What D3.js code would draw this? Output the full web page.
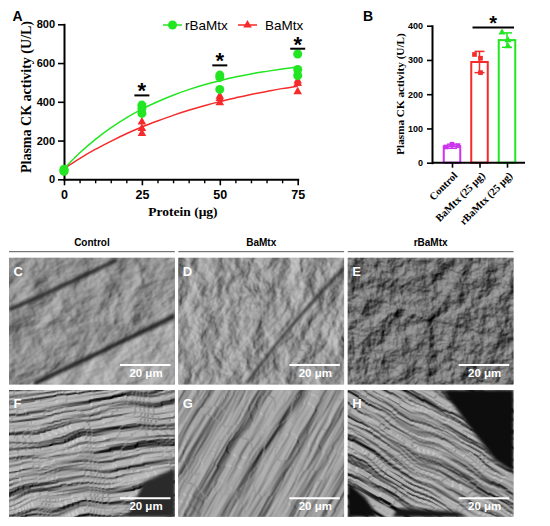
<!DOCTYPE html>
<html>
<head>
<meta charset="utf-8">
<script src="https://cdn.jsdelivr.net/npm/d3@7"></script>
<style>
body { margin: 0; background: #fff; }
svg { display: block; }
.axis text { font-family: "Liberation Sans", Arial, sans-serif; font-weight: bold; fill: #000; }
</style>
</head>
<body>
<div id="fig"></div>
<script>
// ---- panel A data ----
var doses = [0, 25, 50, 75];
var rBaMtxPts = [[52, 46, 41], [383, 366, 340], [538, 526, 464], [647, 567, 536]];
var BaMtxPts = [[50, 45, 40], [296, 262, 236], [429, 417, 395], [507, 495, 452]];
var fitDose = [0, 5, 10, 15, 20, 25, 30, 35, 40, 45, 50, 55, 60, 65, 70, 75];
var rBaMtxFit = [55, 136, 205, 265, 317, 362, 400, 434, 463, 488, 509, 528, 544, 557, 569, 580];
var BaMtxFit = [55, 107, 154, 196, 235, 270, 301, 330, 356, 380, 401, 420, 438, 453, 468, 481];
var sigDoses = [25, 50, 75];
var sigLevels = [433, 588, 674];
var yTicksA = [0, 200, 400, 600, 800];
var xTicksA = [0, 25, 50, 75];
var xMinorA = [5, 10, 15, 20, 30, 35, 40, 45, 55, 60, 65, 70];

// ---- panel B data ----
var groupsB = ["Control", "BaMtx (25 μg)", "rBaMtx (25 μg)"];
var meansB = [48, 294, 358];
var sdB = [6, 31, 21];
var pointsB = [[46, 54, 50], [316, 305, 263], [380, 358, 340]];
var yTicksB = [0, 100, 200, 300, 400];
var sigB = 395;

// ---- SEM panels ----
var semHeads = ["Control", "BaMtx", "rBaMtx"];
var semLetters = ["C", "D", "E", "F", "G", "H"];

var green = "#22e622", red = "#f52a2a", magenta = "#cc33ee";

var svg = d3.select("#fig").append("svg")
    .attr("width", 550)
    .attr("height", 526);
var defs = svg.append("defs");

function styleAxis(g, w) {
  g.select(".domain").attr("stroke-width", w).attr("stroke-linecap", "square");
  g.selectAll(".tick line").attr("stroke-width", 1.6);
}

// ================= Panel A =================
var xA = d3.scaleLinear().domain([0, 75]).range([64, 297.7]);
var yA = d3.scaleLinear().domain([0, 800]).range([179.3, 24.3]);

svg.append("g")
    .attr("class", "axis")
    .attr("transform", "translate(0," + yA(0) + ")")
    .call(d3.axisBottom(xA).tickValues(xMinorA).tickSize(4).tickFormat(""))
    .call(function(g) { g.select(".domain").remove(); })
    .selectAll(".tick line").attr("stroke-width", 1.4);

svg.append("g")
    .attr("class", "axis")
    .attr("transform", "translate(0," + yA(0) + ")")
    .call(d3.axisBottom(xA).tickValues(xTicksA).tickSize(6).tickSizeOuter(0).tickPadding(5))
    .call(styleAxis, 2)
    .selectAll("text").style("font-size", "12.5px");

svg.append("g")
    .attr("class", "axis")
    .attr("transform", "translate(" + xA(0) + ",0)")
    .call(d3.axisLeft(yA).tickValues(yTicksA).tickSize(6).tickSizeOuter(0).tickPadding(3))
    .call(styleAxis, 2)
    .selectAll("text").style("font-size", "11px");

// fitted curves
var lineA = function(vals) {
  return d3.line()
      .x(function(d, i) { return xA(fitDose[i]); })
      .y(function(d) { return yA(d); })
      .curve(d3.curveMonotoneX)(vals);
};
svg.append("path").attr("d", lineA(BaMtxFit)).attr("fill", "none").attr("stroke", red).attr("stroke-width", 1.5);
svg.append("path").attr("d", lineA(rBaMtxFit)).attr("fill", "none").attr("stroke", green).attr("stroke-width", 1.5);

function flatPts(pts) {
  var out = [];
  pts.forEach(function(arr, i) {
    arr.forEach(function(v) { out.push({ x: doses[i], y: v }); });
  });
  return out;
}

var tri = d3.symbol().type(d3.symbolTriangle).size(32);
svg.selectAll(".triA")
  .data(flatPts(BaMtxPts))
  .enter().append("path")
    .attr("class", "triA")
    .attr("d", tri)
    .attr("fill", red)
    .attr("transform", function(d) { return "translate(" + xA(d.x) + "," + yA(d.y) + ")"; });

svg.selectAll(".dotA")
  .data(flatPts(rBaMtxPts))
  .enter().append("circle")
    .attr("class", "dotA")
    .attr("r", 4.5)
    .attr("fill", green)
    .attr("cx", function(d) { return xA(d.x); })
    .attr("cy", function(d) { return yA(d.y); });

// significance marks
sigDoses.forEach(function(dose, i) {
  svg.append("line")
      .attr("x1", xA(dose) - 7.5).attr("x2", xA(dose) + 7.5)
      .attr("y1", yA(sigLevels[i])).attr("y2", yA(sigLevels[i]))
      .attr("stroke", "#000").attr("stroke-width", 2);
  svg.append("text")
      .attr("x", xA(dose))
      .attr("y", yA(sigLevels[i]) + 3)
      .attr("text-anchor", "middle")
      .style("font", "bold 22px 'Liberation Sans', Arial, sans-serif")
      .text("*");
});

// legend
svg.append("line").attr("x1", 163).attr("x2", 182).attr("y1", 25).attr("y2", 25).attr("stroke", green).attr("stroke-width", 1.5);
svg.append("circle").attr("cx", 172.5).attr("cy", 25).attr("r", 4.5).attr("fill", green);
svg.append("text").attr("x", 185).attr("y", 29.8).style("font", "13.5px 'Liberation Sans', Arial, sans-serif").text("rBaMtx");
svg.append("line").attr("x1", 238).attr("x2", 257).attr("y1", 25).attr("y2", 25).attr("stroke", red).attr("stroke-width", 1.5);
svg.append("path").attr("d", tri).attr("fill", red).attr("transform", "translate(247.5,25)");
svg.append("text").attr("x", 265).attr("y", 29.8).style("font", "13.5px 'Liberation Sans', Arial, sans-serif").text("BaMtx");

// axis titles
svg.append("text")
    .attr("transform", "translate(26,97) rotate(-90)")
    .attr("text-anchor", "middle")
    .attr("dy", "0.35em")
    .style("font", "bold 14px 'Liberation Serif', 'Times New Roman', serif")
    .text("Plasma CK activity (U/L)");
svg.append("text")
    .attr("x", 183).attr("y", 216)
    .attr("text-anchor", "middle")
    .style("font", "bold 13.5px 'Liberation Serif', 'Times New Roman', serif")
    .text("Protein (μg)");
svg.append("text").attr("x", 12.5).attr("y", 20.5)
    .style("font", "bold 14px 'Liberation Sans', Arial, sans-serif").text("A");

// ================= Panel B =================
var xB = d3.scalePoint().domain(groupsB).range([452, 507]);
var yB = d3.scaleLinear().domain([0, 400]).range([162.7, 25.7]);
var colorsB = [magenta, red, green];
var barW = 16.5;

// bars (hollow)
svg.selectAll(".barB")
  .data(meansB)
  .enter().append("rect")
    .attr("class", "barB")
    .attr("x", function(d, i) { return xB(groupsB[i]) - barW / 2; })
    .attr("y", function(d) { return yB(d); })
    .attr("width", barW)
    .attr("height", function(d) { return yB(0) - yB(d); })
    .attr("fill", "#fff")
    .attr("stroke", function(d, i) { return colorsB[i]; })
    .attr("stroke-width", 2);

// error bars
meansB.forEach(function(m, i) {
  var cx = xB(groupsB[i]), c = colorsB[i];
  var g = svg.append("g").attr("stroke", c).attr("stroke-width", 1.5);
  g.append("line").attr("x1", cx).attr("x2", cx).attr("y1", yB(m + sdB[i])).attr("y2", yB(m - sdB[i]));
  g.append("line").attr("x1", cx - 5).attr("x2", cx + 5).attr("y1", yB(m + sdB[i])).attr("y2", yB(m + sdB[i]));
  g.append("line").attr("x1", cx - 5).attr("x2", cx + 5).attr("y1", yB(m - sdB[i])).attr("y2", yB(m - sdB[i]));
});

// points
var sq = d3.symbol().type(d3.symbolSquare).size(22);
var triB = d3.symbol().type(d3.symbolTriangle).size(22);
var offB = [-5, 1, 1];
pointsB.forEach(function(arr, i) {
  svg.selectAll(".ptB" + i)
    .data(arr)
    .enter().append("path")
      .attr("class", "ptB" + i)
      .attr("d", i === 2 ? triB : sq)
      .attr("fill", colorsB[i])
      .attr("transform", function(d, j) {
        var dx = i === 0 ? (j - 1) * 6 : offB[j];
        return "translate(" + (xB(groupsB[i]) + dx) + "," + yB(d) + ")";
      });
});

// axes B
svg.append("line").attr("x1", 432).attr("x2", 525).attr("y1", yB(0)).attr("y2", yB(0))
    .attr("stroke", "#000").attr("stroke-width", 2);
svg.append("g")
    .attr("class", "axis")
    .attr("transform", "translate(0," + yB(0) + ")")
    .call(d3.axisBottom(xB).tickSize(5))
    .call(function(g) { g.select(".domain").remove(); g.selectAll(".tick line").attr("stroke-width", 1.6); })
    .selectAll("text")
    .attr("x", 0).attr("y", 0).attr("dy", "0.35em")
    .attr("transform", "translate(3,11) rotate(-45)")
    .style("text-anchor", "end")
    .style("font-family", "'Liberation Serif', 'Times New Roman', serif")
    .style("font-size", "10.5px");
svg.append("g")
    .attr("class", "axis")
    .attr("transform", "translate(432,0)")
    .call(d3.axisLeft(yB).tickValues(yTicksB).tickSize(5).tickSizeOuter(0).tickPadding(4))
    .call(styleAxis, 2)
    .selectAll("text").style("font-size", "9px");

svg.append("line")
    .attr("x1", xB(groupsB[1]) - 7).attr("x2", xB(groupsB[2]) + 7)
    .attr("y1", yB(sigB)).attr("y2", yB(sigB))
    .attr("stroke", "#000").attr("stroke-width", 2);
svg.append("text")
    .attr("x", (xB(groupsB[1]) + xB(groupsB[2])) / 2)
    .attr("y", yB(sigB) + 3)
    .attr("text-anchor", "middle")
    .style("font", "bold 20px 'Liberation Sans', Arial, sans-serif")
    .text("*");

svg.append("text")
    .attr("transform", "translate(400.5,94) rotate(-90)")
    .attr("text-anchor", "middle")
    .attr("dy", "0.35em")
    .style("font", "bold 11.2px 'Liberation Serif', 'Times New Roman', serif")
    .text("Plasma CK activity (U/L)");
svg.append("text").attr("x", 363).attr("y", 20.8)
    .style("font", "bold 14px 'Liberation Sans', Arial, sans-serif").text("B");

// ================= SEM panels C-H =================
var semX = [9, 178.3, 347.7], semW = 165.8;
var semY = [257.7, 390], semH = 126.7;
// look of each micrograph: noise frequency, grain angle, warp, light
var semLook = [
  { freq: "0.03 0.04", ang: -25, seed: 2, light: "#c0c0c0", ss: 3.5, el: 48, warp: 10 },
  { freq: "0.035 0.05", ang: -55, seed: 5, light: "#c8c8c8", ss: 4, el: 50, warp: 12 },
  { freq: "0.055 0.055", ang: 0, seed: 9, light: "#a0a0a0", ss: 5, el: 45, warp: 6 },
  { freq: "0.006 0.11", ang: -8, seed: 4, light: "#d2d2d2", ss: 6, el: 48, warp: 18 },
  { freq: "0.005 0.07", ang: -60, seed: 7, light: "#c4c4c4", ss: 4.5, el: 50, warp: 8 },
  { freq: "0.006 0.12", ang: 30, seed: 11, light: "#cccccc", ss: 6, el: 48, warp: 16 }
];

defs.append("filter").attr("id", "soft").append("feGaussianBlur").attr("stdDeviation", 1.6);

semLook.forEach(function(s, k) {
  var f = defs.append("filter").attr("id", "sem" + k)
      .attr("x", 0).attr("y", 0).attr("width", 1).attr("height", 1)
      .attr("color-interpolation-filters", "sRGB");
  f.append("feTurbulence").attr("type", "fractalNoise").attr("baseFrequency", s.freq)
      .attr("numOctaves", 4).attr("seed", s.seed).attr("result", "n");
  f.append("feTurbulence").attr("type", "fractalNoise").attr("baseFrequency", 0.018)
      .attr("numOctaves", 2).attr("seed", s.seed + 20).attr("result", "w");
  f.append("feDisplacementMap").attr("in", "n").attr("in2", "w").attr("scale", s.warp)
      .attr("xChannelSelector", "R").attr("yChannelSelector", "G").attr("result", "nd");
  f.append("feDiffuseLighting").attr("in", "nd").attr("surfaceScale", s.ss)
      .attr("lighting-color", s.light)
    .append("feDistantLight").attr("azimuth", 225).attr("elevation", s.el);
  defs.append("clipPath").attr("id", "clip" + k)
    .append("rect").attr("x", 0).attr("y", 0).attr("width", semW).attr("height", semH);
});

// column headers
semHeads.forEach(function(h, c) {
  svg.append("text")
      .attr("x", semX[c] + semW / 2).attr("y", 246)
      .attr("text-anchor", "middle")
      .style("font", "bold 10px 'Liberation Sans', Arial, sans-serif")
      .text(h);
  svg.append("line")
      .attr("x1", semX[c]).attr("x2", semX[c] + semW)
      .attr("y1", 251.7).attr("y2", 251.7)
      .attr("stroke", "#555").attr("stroke-width", 1);
});

// decorative shading shapes inside some micrographs (panel-relative)
var shade = {
  0: [{ pts: [[0, 52], [40, 35], [108, 2]], w: 3.5, c: "#222" },
      { pts: [[25, 126], [90, 95], [166, 58]], w: 4, c: "#1c1c1c" }],
  1: [{ pts: [[68, 126], [110, 70], [166, 10]], w: 2.5, c: "#222" }],
  3: [{ area: [[135, 92], [166, 78], [166, 127], [118, 127]], c: "#2a2a2a" }],
  5: [{ area: [[95, 0], [166, 0], [166, 82], [148, 70], [128, 45], [108, 18]], c: "#0c0c0c" },
      { area: [[0, 92], [18, 108], [30, 127], [0, 127]], c: "#111" },
      { area: [[50, 118], [110, 122], [120, 127], [45, 127]], c: "#151515" }]
};

semLetters.forEach(function(L, k) {
  var c = k % 3, r = Math.floor(k / 3);
  var s = semLook[k];
  var g = svg.append("g").attr("transform", "translate(" + semX[c] + "," + semY[r] + ")");
  var inner = g.append("g").attr("clip-path", "url(#clip" + k + ")");
  inner.append("rect").attr("width", semW).attr("height", semH).attr("fill", "#777");
  inner.append("rect")
      .attr("x", -120).attr("y", -120).attr("width", 240).attr("height", 240)
      .attr("transform", "translate(" + semW / 2 + "," + semH / 2 + ") rotate(" + s.ang + ")")
      .attr("filter", "url(#sem" + k + ")");
  (shade[k] || []).forEach(function(sh) {
    if (sh.area) {
      inner.append("path")
          .attr("d", d3.line().curve(d3.curveLinearClosed)(sh.area))
          .attr("fill", sh.c).attr("filter", "url(#soft)");
    } else {
      inner.append("path")
          .attr("d", d3.line().curve(d3.curveBasis)(sh.pts))
          .attr("fill", "none").attr("stroke", sh.c).attr("stroke-width", sh.w)
          .attr("filter", "url(#soft)");
    }
  });
  if (k === 0) {
    inner.append("path")
        .attr("d", d3.line().curve(d3.curveLinearClosed)([[30, 127], [90, 99], [166, 62], [166, 127]]))
        .attr("fill", "#fff").attr("opacity", 0.22).attr("filter", "url(#soft)");
  }
  g.append("text")
      .attr("x", 4.5).attr("y", r === 0 ? 18.5 : 18)
      .attr("fill", "#fff")
      .style("font", "bold 13px 'Liberation Sans', Arial, sans-serif")
      .text(L);
  var barY = r === 0 ? 107.3 : 108.3;
  g.append("line")
      .attr("x1", 111).attr("x2", 161.5)
      .attr("y1", barY).attr("y2", barY)
      .attr("stroke", "#fff").attr("stroke-width", 2);
  g.append("text")
      .attr("x", 137).attr("y", barY + 12)
      .attr("text-anchor", "middle")
      .attr("fill", "#fff")
      .style("font", "bold 11.5px 'Liberation Sans', Arial, sans-serif")
      .text("20 μm");
});
</script>
</body>
</html>
